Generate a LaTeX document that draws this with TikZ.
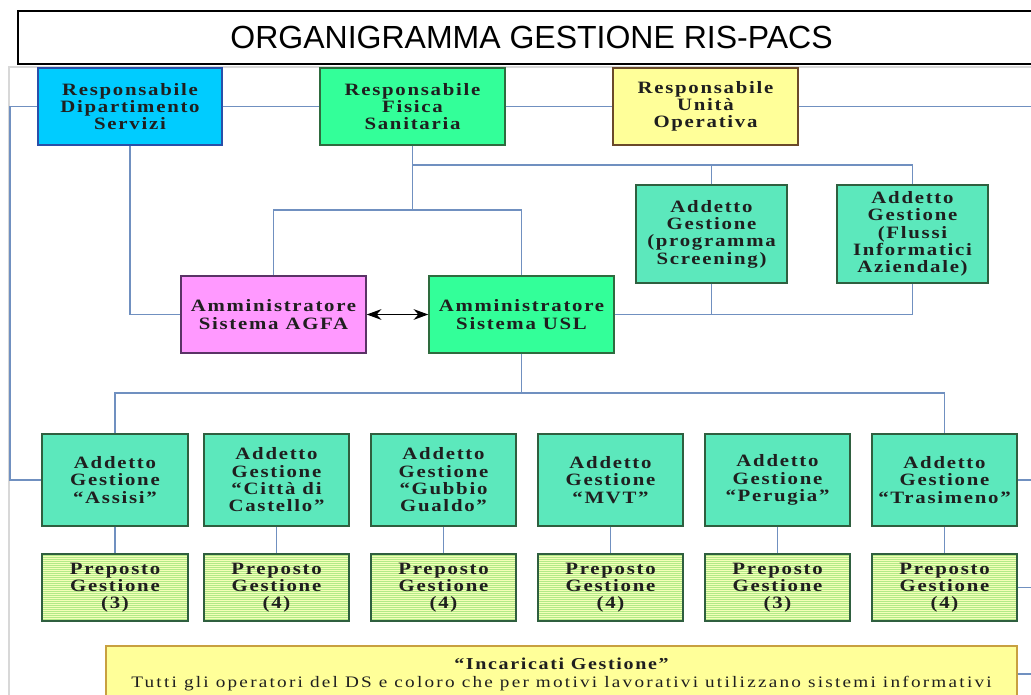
\documentclass[tikz,border=0pt]{standalone}
\usepackage{fontspec}
\setmainfont{Liberation Serif}
\newfontfamily\titlefont{Liberation Sans}
\newfontfamily\bxf{Liberation Serif}[FakeStretch=1.2,LetterSpace=10]
\newfontfamily\txf{Liberation Serif}[FakeStretch=1.2,LetterSpace=14]
\usetikzlibrary{arrows.meta}
\definecolor{connc}{HTML}{7090C0}
\definecolor{dipc}{HTML}{00CCFF}\definecolor{dipb}{HTML}{2A4FA8}
\definecolor{fisc}{HTML}{33FF99}\definecolor{fisb}{HTML}{2E6B3E}
\definecolor{uoc}{HTML}{FFFF99}\definecolor{uob}{HTML}{6B4A2A}
\definecolor{agfc}{HTML}{FF99FF}\definecolor{agfb}{HTML}{5A3366}
\definecolor{addc}{HTML}{5CE8BC}\definecolor{addb}{HTML}{2F5F3F}
\definecolor{prec}{HTML}{F4FFB8}\definecolor{prel}{HTML}{B2EA88}
\definecolor{incc}{HTML}{FFFF99}\definecolor{incb}{HTML}{C8A040}
\definecolor{frmc}{HTML}{D8D8D8}
\newcommand\orgbox[7]{\node[#6, minimum width={(#4-#2)*0.75pt}, minimum height={(#5-#3)*0.75pt}] (#1) at ({(#2+#4)/2},{(#3+#5)/2}) {#7};}
\begin{document}
\begin{tikzpicture}[x=0.75pt,y=-0.75pt,
  orgnode/.style={draw, line width=1.1pt, inner sep=0pt, align=center,
    font=\bxf\bfseries\fontsize{13}{13}\selectfont, text=black!88},
  topdip/.style={orgnode, fill=dipc, draw=dipb},
  topfis/.style={orgnode, fill=fisc, draw=fisb},
  topuo/.style={orgnode, fill=uoc, draw=uob},
  agfabox/.style={orgnode, fill=agfc, draw=agfb},
  addbox/.style={orgnode, fill=addc, draw=addb},
  prebox/.style={orgnode, fill=prec, draw=addb,
    path picture={\foreach \k in {1,3,...,69}{\draw[prel, line width=0.7pt]
      ([yshift={-\k*0.75pt}]path picture bounding box.north west) --
      ([yshift={-\k*0.75pt}]path picture bounding box.north east);}}},
  incbox/.style={draw=incb, line width=1.1pt, fill=incc, inner sep=0pt, align=center,
    font=\fontsize{12}{13.5}\selectfont, text=black!88},
  conn/.style={draw=connc, line width=1.4pt},
  twoway/.style={black, line width=1.2pt, {Stealth[length=11pt,width=8pt]}-{Stealth[length=11pt,width=8pt]}}
]
\useasboundingbox (0,0) rectangle (1031,695);
\clip (0,0) rectangle (1031,695);
\fill[white] (0,0) rectangle (1031,695);
% light frame
\draw[frmc, line width=1pt] (1040,67) -- (9,67) -- (9,700);
% title
\node[draw=black, line width=1.4pt, minimum width={(1045-18)*0.75pt}, minimum height={(64-11)*0.75pt}, inner sep=0pt,
  font=\titlefont\fontsize{24}{26}\selectfont] (title) at ({(18+1045)/2},37.5) {ORGANIGRAMMA GESTIONE RIS-PACS};
% coordinates
\coordinate (lft) at (10,105);
\coordinate (rgt) at (1040,105);
\coordinate (yA) at (0,165);
\coordinate (yB) at (0,210);
\coordinate (yC) at (0,393);
% boxes
\orgbox{dip}{38}{68}{222}{145}{topdip}{Responsabile\\Dipartimento\\Servizi}
\orgbox{fis}{320}{68}{505}{145}{topfis}{Responsabile\\Fisica\\Sanitaria}
\orgbox{uo}{613}{68}{798}{145}{topuo}{Responsabile\\Unità\\Operativa}
\orgbox{scr}{636}{185}{787}{283}{addbox}{Addetto\\Gestione\\(programma\\Screening)}
\orgbox{flu}{837}{185}{988}{283}{addbox}{Addetto\\Gestione\\(Flussi\\Informatici\\Aziendale)}
\orgbox{agfa}{181}{276}{366}{353}{agfabox}{Amministratore\\Sistema AGFA}
\orgbox{usl}{429}{276}{614}{353}{topfis}{Amministratore\\Sistema USL}
\orgbox{a1}{42}{434}{188}{526}{addbox}{Addetto\\Gestione\\“Assisi”}
\orgbox{a2}{204}{434}{349}{526}{addbox}{Addetto\\Gestione\\“Città di\\Castello”}
\orgbox{a3}{371}{434}{516}{526}{addbox}{Addetto\\Gestione\\“Gubbio\\Gualdo”}
\orgbox{a4}{538}{434}{683}{526}{addbox}{Addetto\\Gestione\\“MVT”}
\orgbox{a5}{705}{434}{850}{526}{addbox}{Addetto\\Gestione\\“Perugia”}
\orgbox{a6}{872}{434}{1017}{526}{addbox}{Addetto\\Gestione\\“Trasimeno”}
\orgbox{p1}{42}{554}{188}{621}{prebox}{Preposto\\Gestione\\(3)}
\orgbox{p2}{204}{554}{349}{621}{prebox}{Preposto\\Gestione\\(4)}
\orgbox{p3}{371}{554}{516}{621}{prebox}{Preposto\\Gestione\\(4)}
\orgbox{p4}{538}{554}{683}{621}{prebox}{Preposto\\Gestione\\(4)}
\orgbox{p5}{705}{554}{850}{621}{prebox}{Preposto\\Gestione\\(3)}
\orgbox{p6}{872}{554}{1017}{621}{prebox}{Preposto\\Gestione\\(4)}
\orgbox{inc}{106}{646}{1017}{702}{incbox}{{\bxf\bfseries\fontsize{12.5}{13.5}\selectfont “Incaricati Gestione”}\\{\txf Tutti gli operatori del DS e coloro che per motivi lavorativi utilizzano sistemi informativi}}
% connectors
\draw[conn] (dip.west) -- (dip.west -| lft) |- (a1.west);
\draw[conn] (dip.east) -- (fis.west);
\draw[conn] (fis.east) -- (uo.west);
\draw[conn] (uo.east) -- (uo.east -| rgt);
\draw[conn] (fis.south) -- (fis.south |- yA) -| (flu.north);
\draw[conn] (scr.north) -- (scr.north |- yA);
\draw[conn] (fis.south |- yA) -- (fis.south |- yB);
\draw[conn] (agfa.north) |- (yB -| usl.north) -- (usl.north);
\draw[conn] (dip.south) |- (agfa.west);
\draw[twoway] (agfa.east) -- (usl.west);
\draw[conn] (usl.east) -| (flu.south);
\draw[conn] (scr.south) -- (scr.south |- usl.east);
\draw[conn] (usl.south) -- (usl.south |- yC);
\draw[conn] (a1.north) |- (yC -| a6.north) -- (a6.north);
\foreach \i in {1,...,6}{\draw[conn] (a\i.south) -- (p\i.north);}
\draw[conn] (a6.east) -- (a6.east -| rgt);
\draw[conn] (p6.east) -- (p6.east -| rgt);
\draw[conn] (inc.east) -- (inc.east -| rgt);
\end{tikzpicture}
\end{document}
